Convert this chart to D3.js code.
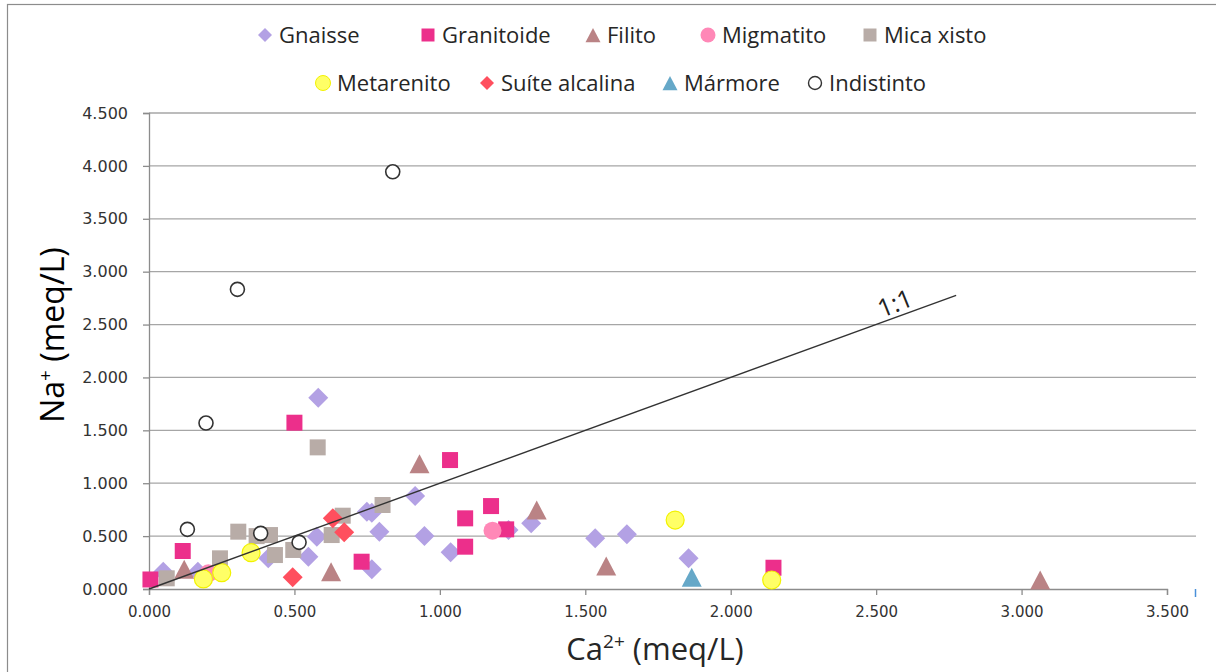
<!DOCTYPE html>
<html><head><meta charset="utf-8">
<script src="https://cdn.jsdelivr.net/npm/d3@7"></script>
<style>body{margin:0;background:#fff;}svg{display:block;}</style>
</head><body>
<svg id="c" width="1216" height="672"></svg>
<script>
// ---- data ----
const seriesNames = ["Gnaisse","Granitoide","Filito","Migmatito","Mica xisto","Metarenito","Suíte alcalina","Mármore","Indistinto"];
const gnaisse = [[0.582,1.808],[0.915,0.879],[0.749,0.73],[0.766,0.72],[0.792,0.542],[0.947,0.501],[0.577,0.494],[0.548,0.305],[0.766,0.186],[1.037,0.347],[1.314,0.621],[1.236,0.558],[1.534,0.479],[1.643,0.517],[1.855,0.29],[0.049,0.163],[0.168,0.163],[0.41,0.29]];
const granitoide = [[0.5,1.572],[1.035,1.219],[1.176,0.784],[1.087,0.668],[1.087,0.40],[1.228,0.564],[0.731,0.258],[0.116,0.359],[0.005,0.09],[2.147,0.201]];
const filito = [[0.93,1.184],[1.333,0.747],[1.572,0.217],[0.626,0.164],[0.121,0.186],[3.064,0.085]];
const migmatito = [[1.181,0.551],[0.204,0.148]];
const micaXisto = [[0.58,1.339],[0.803,0.794],[0.666,0.693],[0.628,0.51],[0.307,0.542],[0.37,0.50],[0.416,0.51],[0.433,0.321],[0.496,0.369],[0.244,0.29],[0.061,0.101]];
const metarenito = [[1.809,0.652],[2.141,0.085],[0.351,0.343],[0.25,0.154],[0.187,0.095]];
const suiteAlcalina = [[0.632,0.668],[0.671,0.536],[0.494,0.11]];
const marmore = [[1.866,0.11]];
const indistinto = [[0.838,3.944],[0.304,2.833],[0.196,1.569],[0.132,0.564],[0.384,0.526],[0.516,0.441]];
const xTicks = [0,0.5,1,1.5,2,2.5,3,3.5];
const yTicks = [0,0.5,1,1.5,2,2.5,3,3.5,4,4.5];
const oneToOne = [0, 2.775];

// ---- styles ----
const seriesData = [gnaisse,granitoide,filito,migmatito,micaXisto,metarenito,suiteAlcalina,marmore,indistinto];
const styles = [
  {shape:"diamond", fill:"#b3a1e4", stroke:"none"},
  {shape:"square", fill:"#ec2f8b", stroke:"none"},
  {shape:"triangle", fill:"#ba8385", stroke:"none"},
  {shape:"circle", fill:"#ff88b7", stroke:"none"},
  {shape:"square", fill:"#b8aca7", stroke:"none"},
  {shape:"circle", fill:"#ffff66", stroke:"#f2f200"},
  {shape:"diamond", fill:"#ff4f5e", stroke:"none"},
  {shape:"triangle", fill:"#66a8c8", stroke:"none"},
  {shape:"hollow", fill:"#ffffff", stroke:"#333333"}
];

const svg = d3.select("#c");
const x = d3.scaleLinear().domain([0,3.5]).range([149,1167]);
const y = d3.scaleLinear().domain([0,4.5]).range([589,113]);
const gridRight = 1196;

// chart border
svg.append("rect").attr("x",7.5).attr("y",4.5).attr("width",1230).attr("height",700)
  .attr("fill","none").attr("stroke","#8c8c8c").attr("stroke-width",1.2);

// gridlines
svg.append("g").selectAll("line").data(yTicks.filter(d=>d>0)).join("line")
  .attr("x1",x(0)).attr("x2",gridRight).attr("y1",d=>y(d)).attr("y2",d=>y(d))
  .attr("stroke","#a6a6a6").attr("stroke-width",1.3);

// axes
const yAxis = d3.axisLeft(y).tickValues(yTicks).tickFormat(d3.format(".3f")).tickSize(6).tickPadding(15);
const gy = svg.append("g").attr("transform",`translate(${x(0)},0)`).call(yAxis);
const xAxis = d3.axisBottom(x).tickValues(xTicks).tickFormat(d3.format(".3f")).tickSize(6).tickPadding(11);
const gx = svg.append("g").attr("transform",`translate(0,${y(0)})`).call(xAxis);
[gx,gy].forEach(g=>{
  g.select(".domain").attr("stroke","#8c8c8c").attr("stroke-width",1.3);
  g.selectAll(".tick line").attr("stroke","#8c8c8c").attr("stroke-width",1.3);
  g.selectAll(".tick text").attr("fill","#333").style("font-family","'DejaVu Sans', sans-serif").style("font-size","15px");
});
gy.selectAll(".tick text").style("font-size","16px");

// marker shapes
function shapePath(shape, s){
  const p = d3.path();
  if(shape==="square"){ const h=s/2; p.rect(-h,-h,s,s); }
  else if(shape==="diamond"){ const h=s/2; p.moveTo(0,-h);p.lineTo(h,0);p.lineTo(0,h);p.lineTo(-h,0);p.closePath(); }
  else if(shape==="triangle"){ const w=s/2, hh=s*0.95/2; p.moveTo(0,-hh);p.lineTo(w,hh);p.lineTo(-w,hh);p.closePath(); }
  else { p.arc(0,0,s/2,0,2*Math.PI); }
  return p.toString();
}
const plotSize = {square:16, diamond:20, triangle:20, circle:18, hollow:14};
const legSize = {square:13, diamond:14, triangle:15, circle:15, hollow:13};

const marks = svg.append("g");
seriesData.forEach((data,i)=>{
  const st = styles[i];
  marks.append("g").selectAll("path").data(data).join("path")
    .attr("d", shapePath(st.shape, plotSize[st.shape]))
    .attr("transform", d=>`translate(${x(d[0])},${y(d[1])})`)
    .attr("fill", st.fill)
    .attr("stroke", st.stroke)
    .attr("stroke-width", st.shape==="hollow"?1.6:1.2);
});

// 1:1 line
svg.append("line").attr("x1",x(oneToOne[0])).attr("y1",y(oneToOne[0]))
  .attr("x2",x(oneToOne[1])).attr("y2",y(oneToOne[1]))
  .attr("stroke","#333").attr("stroke-width",1.4);
const ang = Math.atan2(y(1)-y(0), x(1)-x(0))*180/Math.PI;
svg.append("text").attr("transform",`translate(${x(2.565)},${y(2.70)}) rotate(${ang-2})`)
  .attr("text-anchor","middle").attr("dy","0.35em").style("font-family","'Open Sans', sans-serif").style("font-size","25px")
  .attr("fill","#222").text("1:1");

// legend
const legendPos = [
  [265,35],[428,35],[593,35],[708,35],[870,35],
  [323,83],[487,83],[670,83],[815,83]
];
const leg = svg.append("g");
seriesNames.forEach((n,i)=>{
  const st = styles[i];
  const [lx,ly] = legendPos[i];
  leg.append("path").attr("d", shapePath(st.shape, legSize[st.shape]))
    .attr("transform",`translate(${lx},${ly})`)
    .attr("fill",st.fill).attr("stroke",st.stroke).attr("stroke-width",st.shape==="hollow"?1.4:1);
  leg.append("text").attr("x",lx+14).attr("y",ly+8).style("font-family","'Open Sans', sans-serif")
    .style("font-size","22px").attr("fill","#262626").text(n);
});

// axis titles
const xt = svg.append("text").attr("x",655).attr("y",660).attr("text-anchor","middle")
  .style("font-family","'Open Sans', sans-serif").style("font-size","31px").attr("fill","#262626");
xt.append("tspan").text("Ca");
xt.append("tspan").attr("dy",-12).style("font-size","19px").text("2+");
xt.append("tspan").attr("dy",12).text(" (meq/L)");

const yt = svg.append("text").attr("transform","translate(64,335) rotate(-90)").attr("text-anchor","middle")
  .style("font-family","'Open Sans', sans-serif").style("font-size","32px").attr("fill","#000");
yt.append("tspan").text("Na");
yt.append("tspan").attr("dy",-12).style("font-size","19px").text("+");
yt.append("tspan").attr("dy",12).text(" (meq/L)");

// small stray handle mark at right edge
svg.append("line").attr("x1",1195.5).attr("x2",1195.5).attr("y1",589).attr("y2",597).attr("stroke","#4a90d9").attr("stroke-width",1.5);
</script>
</body></html>
